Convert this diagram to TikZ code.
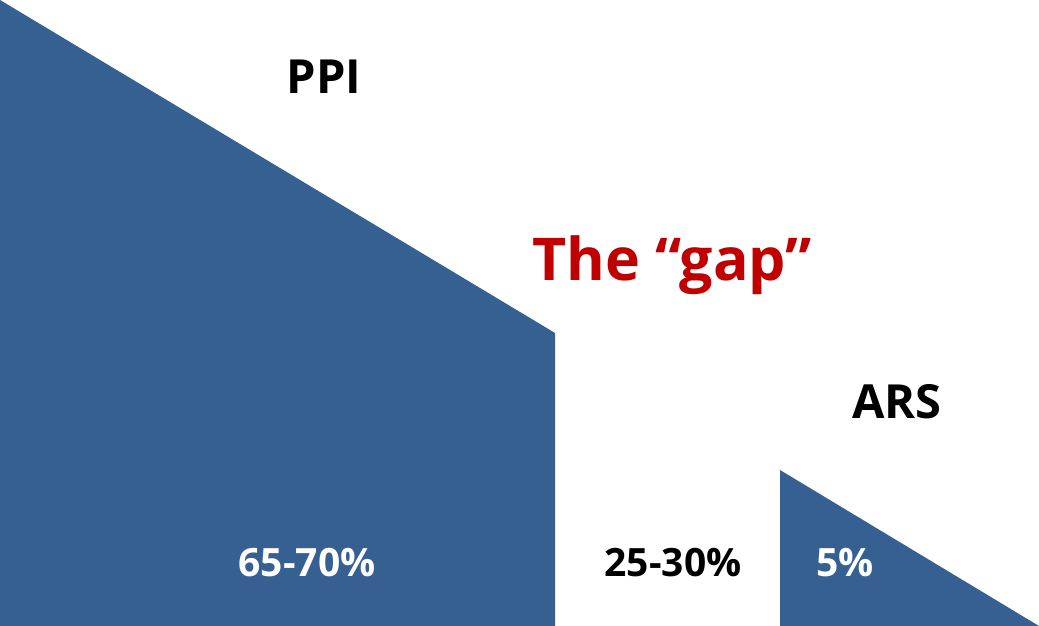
\documentclass[tikz,border=0pt]{standalone}
\usepackage{fontspec}
\setmainfont{Open Sans}
\definecolor{ppiblue}{HTML}{376092}
\definecolor{gapred}{HTML}{C00000}
\begin{document}
\begin{tikzpicture}[x=1pt,y=-1pt,
  lbl/.style={font=\bfseries, inner sep=0pt, anchor=base},
  area/.style={fill=ppiblue, draw=none}]
\useasboundingbox (0,0) rectangle (1039,626);
\fill[white] (0,0) rectangle (1039,626);
\coordinate (p1) at (0,0);
\coordinate (p2) at (555,333);
\coordinate (p3) at (555,626);
\coordinate (p4) at (0,626);
\path[area] (p1) -- (p2) -- (p3) -- (p4) -- cycle;
\coordinate (a1) at (780,470);
\coordinate (a2) at (1039,626);
\coordinate (a3) at (780,626);
\path[area] (a1) -- (a2) -- (a3) -- cycle;
\node[lbl, font=\fontsize{47}{50}\selectfont\bfseries] (ppi) at (324,93) {PPI};
\node[lbl, font=\fontsize{59}{66}\selectfont\bfseries, text=gapred] (gap) at (672,280) {The “gap”};
\node[lbl, font=\fontsize{47}{50}\selectfont\bfseries] (ars) at (897,418) {ARS};
\node[lbl, font=\fontsize{39}{44}\selectfont\bfseries, text=white] (l1) at (307,576) {65-70\%};
\node[lbl, font=\fontsize{39}{44}\selectfont\bfseries] (l2) at (673,576) {25-30\%};
\node[lbl, font=\fontsize{39}{44}\selectfont\bfseries, text=white] (l3) at (845,576) {5\%};
\end{tikzpicture}
\end{document}
